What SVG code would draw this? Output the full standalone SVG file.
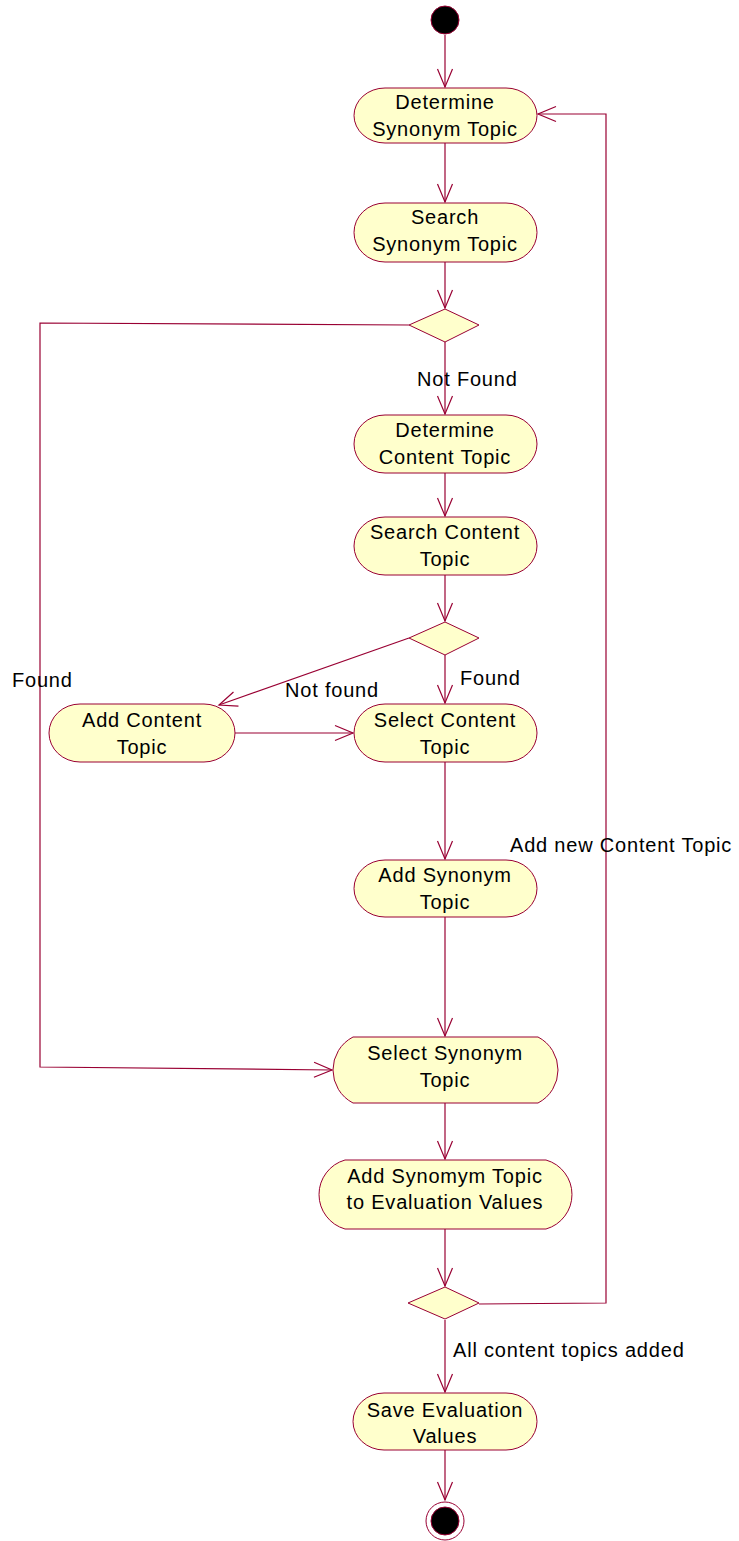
<svg xmlns="http://www.w3.org/2000/svg" width="739" height="1541" viewBox="0 0 739 1541">
<style>
.n{fill:#FFFFCC;stroke:#990033;stroke-width:1}
.c{fill:none;stroke:#990033;stroke-width:1.2}
text{font-family:"Liberation Sans",Arial,sans-serif;font-size:20px;letter-spacing:0.8px;fill:#000}
.m{text-anchor:middle}
</style>
<defs>
<marker id="a" viewBox="-20 -10 22 20" markerWidth="22" markerHeight="20" refX="0" refY="0" markerUnits="userSpaceOnUse" orient="auto">
<path d="M-18,-7.5 L0,0 L-18,7.5" fill="none" stroke="#990033" stroke-width="1.2"/>
</marker>
</defs>
<rect width="739" height="1541" fill="#fff"/>
<g id="connectors">
<path class="c" marker-end="url(#a)" d="M445,35 V87"/>
<path class="c" marker-end="url(#a)" d="M445,143 V202"/>
<path class="c" marker-end="url(#a)" d="M445,262 V308"/>
<path class="c" marker-end="url(#a)" d="M445,342 V414"/>
<path class="c" marker-end="url(#a)" d="M445,473 V516"/>
<path class="c" marker-end="url(#a)" d="M445,575 V621"/>
<path class="c" marker-end="url(#a)" d="M445,655 V703"/>
<path class="c" marker-end="url(#a)" d="M409,638 L219,705"/>
<path class="c" marker-end="url(#a)" d="M235,733 H353"/>
<path class="c" marker-end="url(#a)" d="M445,762 V859"/>
<path class="c" marker-end="url(#a)" d="M445,917 V1036"/>
<path class="c" marker-end="url(#a)" d="M409,325 L40,323 V1067 L332,1070"/>
<path class="c" marker-end="url(#a)" d="M445,1103 V1159"/>
<path class="c" marker-end="url(#a)" d="M445,1229 V1286"/>
<path class="c" marker-end="url(#a)" d="M479,1304 L606,1303 V114 H538"/>
<path class="c" marker-end="url(#a)" d="M445,1320 V1392"/>
<path class="c" marker-end="url(#a)" d="M445,1450 V1500"/>
<text x="417" y="386">Not Found</text>
<text x="460" y="685">Found</text>
<text x="285" y="697">Not found</text>
<text x="12" y="687">Found</text>
<text x="510" y="852">Add new Content Topic</text>
<text x="453" y="1357">All content topics added</text>
</g>
<g id="start"><circle cx="445" cy="20" r="14" fill="#000" stroke="#990033"/></g>
<g id="n1">
<path class="n" d="M385,88 H506 A31,27.5 0 0 1 506,143 H385 A31,27.5 0 0 1 385,88 Z"/>
<text class="m" x="445" y="109">Determine</text>
<text class="m" x="445" y="136">Synonym Topic</text>
</g>
<g id="n2">
<path class="n" d="M385,203 H506 A31,29.5 0 0 1 506,262 H385 A31,29.5 0 0 1 385,203 Z"/>
<text class="m" x="445" y="224">Search</text>
<text class="m" x="445" y="251">Synonym Topic</text>
</g>
<g id="d1"><path class="n" d="M445,309 L479,325 L445,342 L409,325 Z"/></g>
<g id="n3">
<path class="n" d="M385,415 H506 A31,29 0 0 1 506,473 H385 A31,29 0 0 1 385,415 Z"/>
<text class="m" x="445" y="437">Determine</text>
<text class="m" x="445" y="464">Content Topic</text>
</g>
<g id="n4">
<path class="n" d="M385,517 H506 A31,29 0 0 1 506,575 H385 A31,29 0 0 1 385,517 Z"/>
<text class="m" x="445" y="539">Search Content</text>
<text class="m" x="445" y="566">Topic</text>
</g>
<g id="d2"><path class="n" d="M445,622 L479,638 L445,655 L409,638 Z"/></g>
<g id="n5">
<path class="n" d="M80,704 H204 A31,29 0 0 1 204,762 H80 A31,29 0 0 1 80,704 Z"/>
<text class="m" x="142" y="727">Add Content</text>
<text class="m" x="142" y="754">Topic</text>
</g>
<g id="n6">
<path class="n" d="M385,704 H506 A31,29 0 0 1 506,762 H385 A31,29 0 0 1 385,704 Z"/>
<text class="m" x="445" y="727">Select Content</text>
<text class="m" x="445" y="754">Topic</text>
</g>
<g id="n7">
<path class="n" d="M385,860 H506 A31,28.5 0 0 1 506,917 H385 A31,28.5 0 0 1 385,860 Z"/>
<text class="m" x="445" y="882">Add Synonym</text>
<text class="m" x="445" y="909">Topic</text>
</g>
<g id="n8">
<path class="n" d="M353,1037 H538 A37.2,37.2 0 0 1 538,1103 H353 A37.2,37.2 0 0 1 353,1037 Z"/>
<text class="m" x="445" y="1060">Select Synonym</text>
<text class="m" x="445" y="1087">Topic</text>
</g>
<g id="n9">
<path class="n" d="M345,1160 H546 A35.9,35.9 0 0 1 546,1229 H345 A35.9,35.9 0 0 1 345,1160 Z"/>
<text class="m" x="445" y="1183">Add Synomym Topic</text>
<text class="m" x="445" y="1209">to Evaluation Values</text>
</g>
<g id="d3"><path class="n" d="M445,1287 L479,1303 L445,1319 L408,1303 Z"/></g>
<g id="n10">
<path class="n" d="M384,1393 H506 A31,28.5 0 0 1 506,1450 H384 A31,28.5 0 0 1 384,1393 Z"/>
<text class="m" x="445" y="1417">Save Evaluation</text>
<text class="m" x="445" y="1443">Values</text>
</g>
<g id="end">
<circle cx="445" cy="1521" r="19" fill="#fff" stroke="#990033"/>
<circle cx="445" cy="1521" r="14" fill="#000" stroke="#990033"/>
</g>
</svg>
